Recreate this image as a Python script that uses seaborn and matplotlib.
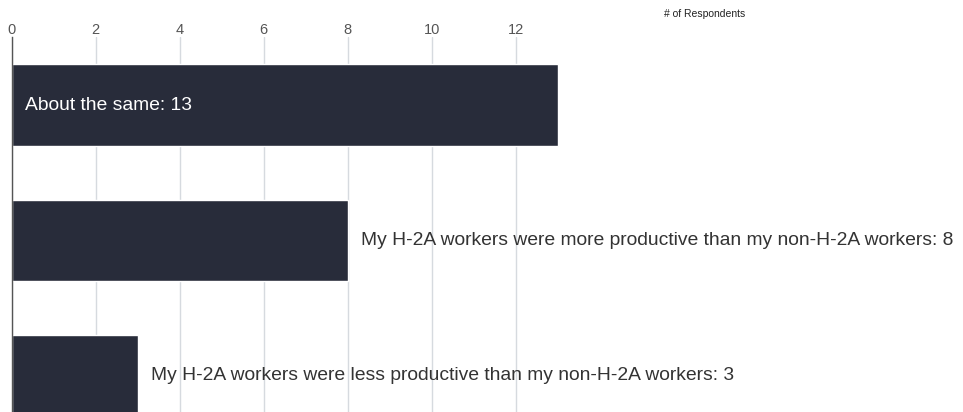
import matplotlib
matplotlib.use("Agg")
import matplotlib.pyplot as plt
import seaborn as sns
import pandas as pd

categories = [
    "About the same",
    "My H-2A workers were more productive than my non-H-2A workers",
    "My H-2A workers were less productive than my non-H-2A workers",
]
respondents = [13, 8, 3]
tick_values = [0, 2, 4, 6, 8, 10, 12]
axis_title = "# of Respondents"

sns.set_theme(style="white")
plt.rcParams["font.family"] = ["Liberation Sans", "DejaVu Sans"]

df = pd.DataFrame({"answer": categories, "count": respondents})

fig = plt.figure(figsize=(9.63, 4.12), dpi=100)
W, H = 963, 412
left_px, top_px = 11.8, 37
ax = fig.add_axes([left_px / W, 0, (W - left_px) / W, (H - top_px) / H])

bar_color = "#282c3a"
sns.barplot(data=df, y="answer", x="count", orient="h", color=bar_color,
            width=0.6, saturation=1, ax=ax, zorder=2)

px_per_unit = 42.0
ax.set_xlim(0, (W - left_px) / px_per_unit)
ax.set_ylim(2.266, -0.502)

ax.set_xticks(tick_values)
ax.xaxis.tick_top()
ax.tick_params(axis="x", length=0, pad=0, labelsize=10.5, labelcolor="#555555")
ax.set_yticks([])
ax.set_xlabel("")
ax.set_ylabel("")
ax.grid(axis="x", color="#d6dadf", linewidth=1, zorder=0)
ax.set_axisbelow(True)

for side in ["top", "right", "bottom"]:
    ax.spines[side].set_visible(False)
ax.spines["left"].set_color("#555555")
ax.spines["left"].set_linewidth(1)
ax.spines["left"].set_zorder(3)

for i, (cat, val) in enumerate(zip(categories, respondents)):
    label = f"{cat}: {val}"
    if val >= 10:
        ax.annotate(label, xy=(0, i), xytext=(9.5, 0), textcoords="offset points",
                    va="center", ha="left", color="white", fontsize=13.9)
    else:
        ax.annotate(label, xy=(val, i), xytext=(9.5, 0), textcoords="offset points",
                    va="center", ha="left", color="#333333", fontsize=13.9)

fig.text(704.5 / W, 1 - 14 / H, axis_title, ha="center", va="center",
         fontsize=7.5, color="#222222")

fig.savefig("out.png", dpi=100)
